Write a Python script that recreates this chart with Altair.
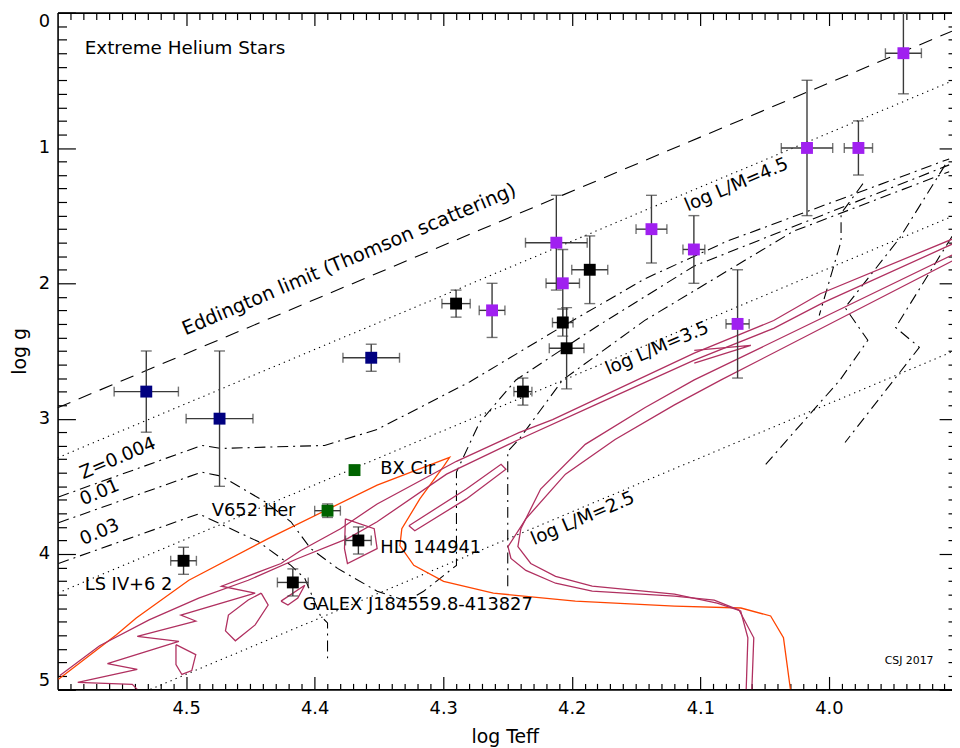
import altair as alt
import pandas as pd

FONT = "DejaVu Sans"
W, H = 902, 682.5

# ---------------- stars (log Teff, log g, errors) ----------------
star_class = ["navy"] * 3 + ["green"] * 2 + ["black"] * 8 + ["purple"] * 9
star_logT = [4.531, 4.474, 4.356, 4.369, 4.390, 4.502, 4.417, 4.366, 4.290, 4.186, 4.207,
             4.204, 4.238, 4.262, 4.212, 4.207, 4.138, 4.105, 4.071, 3.942, 4.017, 3.977]
star_logg = [2.80, 3.00, 2.55, 3.38, 3.68, 4.05, 4.21, 3.90, 2.15, 1.90, 2.29,
             2.48, 2.80, 2.20, 1.70, 2.00, 1.60, 1.75, 2.30, 0.30, 1.00, 1.00]
star_eT = [0.025, 0.026, 0.022, 0.0, 0.010, 0.010, 0.012, 0.010, 0.011, 0.014, 0.008,
           0.0135, 0.007, 0.010, 0.024, 0.013, 0.012, 0.0085, 0.009, 0.014, 0.020, 0.011]
star_eg = [0.30, 0.50, 0.10, 0.0, 0.05, 0.10, 0.10, 0.10, 0.10, 0.25, 0.10,
           0.30, 0.10, 0.20, 0.35, 0.25, 0.25, 0.25, 0.40, 0.30, 0.50, 0.20]

# ---------------- reference lines ----------------
eddington = [(4.6, 2.92), (3.9042, 0.137)]
lm45 = [(4.6, 3.289), (3.9042, 0.506)]
lm35 = [(4.6, 4.289), (3.9042, 1.506)]
lm25 = [(4.5278, 5.0), (3.9042, 2.506)]

z004 = [(4.5993, 3.579), (4.4879, 3.198), (4.4725, 3.220), (4.3923, 3.198), (4.3514, 3.080),
        (4.2795, 2.729), (4.2125, 2.348), (4.1432, 1.967), (4.0792, 1.689), (3.9064, 1.081)]
z001 = [(4.5993, 3.769), (4.4879, 3.395), (4.4725, 3.425), (4.4385, 3.615), (4.4185, 3.762),
        (4.4031, 3.960), (4.3822, 4.106), (4.3514, 4.275), (4.3283, 4.348), (4.3152, 4.275),
        (4.2897, 4.084), (4.2897, 3.395), (4.2718, 3.029), (4.2434, 2.714), (4.1817, 2.326),
        (4.1047, 1.872), (3.9064, 1.125)]
z003 = [(4.5993, 4.070), (4.4902, 3.703), (4.4439, 3.908), (4.4185, 4.084), (4.4077, 4.180),
        (4.3954, 4.458), (4.3900, 4.509), (4.3900, 4.780)]
track_d = [(4.2498, 4.238), (4.2498, 3.242), (4.2411, 3.154), (4.2071, 2.714), (4.1432, 2.274),
           (4.1047, 2.055), (4.0275, 1.615), (3.9064, 1.176)]
hook1 = [(3.9095, 1.125), (3.9450, 1.667), (3.9874, 2.179), (3.9697, 2.421), (3.9913, 2.714),
         (4.0491, 3.337)]
hook2 = [(3.9735, 1.264), (3.9905, 1.484), (3.9905, 1.689), (4.0075, 2.238)]
hook3 = [(3.9041, 1.652), (3.9481, 2.326), (3.9296, 2.473), (3.9874, 3.176)]

orange_track = [(4.5993, 4.925), (4.5542, 4.597), (4.5388, 4.473), (4.4979, 4.194), (4.4362, 3.886),
                (4.3514, 3.491), (4.2950, 3.286), (4.2997, 3.352), (4.3182, 3.593), (4.3322, 3.813),
                (4.3337, 3.938), (4.3229, 4.084), (4.2997, 4.202), (4.2610, 4.289), (4.1972, 4.348),
                (4.1201, 4.385), (4.0684, 4.399), (4.0453, 4.458), (4.0353, 4.619), (4.0299, 5.0)]

mag_outer = [(3.9041, 1.835), (4.0838, 2.714), (4.1201, 2.898), (4.1663, 3.154), (4.2049, 3.410),
             (4.2357, 3.740), (4.2496, 3.945), (4.2473, 4.033), (4.2357, 4.121), (4.2126, 4.216),
             (4.1841, 4.275), (4.1201, 4.311), (4.0892, 4.340), (4.0699, 4.414), (4.0584, 4.619),
             (4.0599, 5.0)]
mag_inner = [(3.9041, 1.791), (4.1047, 2.714), (4.1432, 2.919), (4.1895, 3.190), (4.2242, 3.520),
             (4.2396, 3.813), (4.2419, 3.945), (4.2319, 4.070), (4.2126, 4.165), (4.1841, 4.238),
             (4.1201, 4.297), (4.0869, 4.363), (4.0686, 4.421), (4.0630, 4.619), (4.0643, 5.0)]
mag_up1 = [(3.9041, 1.674), (4.0067, 2.077), (4.0429, 2.275), (4.1047, 2.516), (4.2149, 3.007),
           (4.2411, 3.103), (4.2897, 3.315), (4.3514, 3.630), (4.3799, 3.813), (4.4108, 3.974),
           (4.4262, 4.070), (4.4725, 4.238), (4.4463, 4.289), (4.5041, 4.451), (4.4925, 4.495),
           (4.5380, 4.609), (4.5056, 4.646), (4.5612, 4.809), (4.5380, 4.853), (4.5843, 4.949),
           (4.5419, 4.963), (4.5380, 5.0)]
mag_up2 = [(3.9041, 1.711), (4.0044, 2.143), (4.0429, 2.333), (4.1047, 2.568), (4.1818, 2.898),
           (4.2411, 3.154), (4.2974, 3.410), (4.3514, 3.762), (4.3745, 3.886), (4.4131, 4.033),
           (4.4517, 4.194), (4.4902, 4.326), (4.5288, 4.487), (4.5673, 4.678), (4.5982, 4.897)]
mag_spike = [(4.1047, 2.495), (4.0607, 2.458), (4.1047, 2.590)]
loop1 = [(4.5079, 4.670), (4.4925, 4.743), (4.4956, 4.861), (4.5033, 4.890), (4.5079, 4.817), (4.5079, 4.670)]
loop2 = [(4.4416, 4.289), (4.4362, 4.377), (4.4463, 4.524), (4.4617, 4.641), (4.4694, 4.568),
         (4.4671, 4.451), (4.4517, 4.340), (4.4416, 4.289)]
loop3 = [(4.3761, 3.740), (4.3537, 3.813), (4.3514, 3.960), (4.3745, 4.070), (4.3768, 3.960), (4.3761, 3.740)]
loop4 = [(4.3267, 3.791), (4.2820, 3.520), (4.2550, 3.337), (4.2512, 3.374), (4.2820, 3.593),
         (4.3221, 3.828), (4.3267, 3.791)]
loop5 = [(4.4262, 4.348), (4.4077, 4.231), (4.4131, 4.326), (4.4208, 4.377), (4.4262, 4.348)]

# ---------------- annotations ----------------
title_label = ["Extreme Helium Stars"]
title_T, title_g = [4.5789], [0.309]
star_labels = ["BX Cir", "V652 Her", "HD 144941", "GALEX J184559.8-413827", "LS IV+6 2"]
star_label_T = [4.3489, 4.4800, 4.3489, 4.4092, 4.5789]
star_label_g = [3.410, 3.716, 3.996, 4.412, 4.265]
line_labels = ["Eddington limit (Thomson scattering)", "Z=0.004", "0.01", "0.03",
               "log L/M=4.5", "log L/M=3.5", "log L/M=2.5"]
line_label_T = [4.5005, 4.5802, 4.5802, 4.5802, 4.1098, 4.1715, 4.2293]
line_label_g = [2.385, 3.447, 3.642, 3.935, 1.469, 2.678, 3.935]
credit = ["CSJ 2017"]
credit_T, credit_g = [3.9566], [4.810]

x_major = [4.5, 4.4, 4.3, 4.2, 4.1, 4.0]
x_minor = [round(3.90 + 0.01 * k, 2) for k in range(1, 70) if k % 10 != 0]
y_major = [0, 1, 2, 3, 4, 5]
y_minor = [round(0.1 * k, 1) for k in range(1, 50) if k % 10 != 0]

# ---------------- scales ----------------
xscale = alt.Scale(domain=[3.9042, 4.6], reverse=True, nice=False, zero=False)
yscale = alt.Scale(domain=[0, 5], reverse=True, nice=False, zero=False)


def X(field="T", axis=None):
    return alt.X(f"{field}:Q", scale=xscale, axis=axis)


def Y(field="g", axis=None):
    return alt.Y(f"{field}:Q", scale=yscale, axis=axis)


def path_layer(pts, color, dash=None, width=1.1):
    df = pd.DataFrame(pts, columns=["T", "g"])
    df["i"] = range(len(df))
    props = dict(color=color, strokeWidth=width, clip=True, strokeCap="butt")
    if dash is not None:
        props["strokeDash"] = dash
    return alt.Chart(df).mark_line(**props).encode(x=X(), y=Y(), order="i:Q")


# ---------------- axes (inward ticks via negative offset) ----------------
axis_df = pd.DataFrame({"T": [4.5], "g": [2.5]})


def axis_layer(xaxis, yaxis):
    return alt.Chart(axis_df).mark_point(opacity=0).encode(x=X(axis=xaxis), y=Y(axis=yaxis))


def tick_axis(orient, values, size, **kw):
    base = dict(orient=orient, values=values, tickSize=size, offset=-size, grid=False,
                domain=False, labels=False, title=None, tickColor="black", tickWidth=1.2)
    base.update(kw)
    return alt.Axis(**base)


bottom_major = tick_axis("bottom", x_major, 13, labels=True, format=".1f", labelFont=FONT,
                         labelFontSize=18, labelColor="black", labelPadding=10, labelFlush=False,
                         title="log Teff", titleFont=FONT, titleFontSize=19,
                         titleFontWeight="normal", titleColor="black", titlePadding=11)
left_major = tick_axis("left", y_major, 18, labels=True, format="d", labelFont=FONT,
                       labelFontSize=18, labelColor="black", labelPadding=8, labelFlush=True,
                       title="log g", titleFont=FONT, titleFontSize=19,
                       titleFontWeight="normal", titleColor="black", titlePadding=9)
axes = [
    axis_layer(bottom_major, left_major),
    axis_layer(tick_axis("bottom", x_minor, 6), tick_axis("left", y_minor, 9)),
    axis_layer(tick_axis("top", x_major, 13), tick_axis("right", y_major, 13)),
    axis_layer(tick_axis("top", x_minor, 7), tick_axis("right", y_minor, 4)),
    axis_layer(alt.Axis(orient="bottom", ticks=False, labels=False, grid=False, title=None,
                        domainColor="black", domainWidth=1.6),
               alt.Axis(orient="left", ticks=False, labels=False, grid=False, title=None,
                        domainColor="black", domainWidth=1.6)),
    axis_layer(alt.Axis(orient="top", ticks=False, labels=False, grid=False, title=None,
                        domainColor="black", domainWidth=1.6), None),
]

# ---------------- curves ----------------
DASHDOT = [11, 5, 2, 5]
DOT = [1.3, 4.2]
MAROON = "#b03060"
curves = [
    path_layer(eddington, "black", [14, 9]),
    path_layer(lm45, "black", DOT),
    path_layer(lm35, "black", DOT),
    path_layer(lm25, "black", DOT),
    path_layer(z004, "black", DASHDOT),
    path_layer(z001, "black", DASHDOT),
    path_layer(z003, "black", DASHDOT),
    path_layer(track_d, "black", DASHDOT),
    path_layer(hook1, "black", DASHDOT),
    path_layer(hook2, "black", DASHDOT),
    path_layer(hook3, "black", DASHDOT),
    path_layer(orange_track, "#ff4500", None, 1.3),
]
for trk in [mag_outer, mag_inner, mag_up1, mag_up2, mag_spike, loop1, loop2, loop3, loop4, loop5]:
    curves.append(path_layer(trk, MAROON, None, 1.3))

# ---------------- stars ----------------
stars = pd.DataFrame({"cls": star_class, "T": star_logT, "g": star_logg,
                      "eT": star_eT, "eg": star_eg})
stars["Tlo"] = stars["T"] - stars["eT"]
stars["Thi"] = stars["T"] + stars["eT"]
stars["glo"] = stars["g"] - stars["eg"]
stars["ghi"] = stars["g"] + stars["eg"]
err = stars[stars["eT"] > 0]
EC = "#3a3a3a"
errbars = [
    alt.Chart(err).mark_rule(color=EC, strokeWidth=1.4).encode(x=X("Tlo"), x2="Thi:Q", y=Y()),
    alt.Chart(err).mark_rule(color=EC, strokeWidth=1.4).encode(x=X(), y=Y("glo"), y2="ghi:Q"),
    alt.Chart(err).mark_tick(color=EC, orient="vertical", size=10, thickness=1.4).encode(x=X("Tlo"), y=Y()),
    alt.Chart(err).mark_tick(color=EC, orient="vertical", size=10, thickness=1.4).encode(x=X("Thi"), y=Y()),
    alt.Chart(err).mark_tick(color=EC, orient="horizontal", size=11, thickness=1.4).encode(x=X(), y=Y("glo")),
    alt.Chart(err).mark_tick(color=EC, orient="horizontal", size=11, thickness=1.4).encode(x=X(), y=Y("ghi")),
]
points = alt.Chart(stars).mark_square(size=144, filled=True, opacity=1).encode(
    x=X(), y=Y(),
    color=alt.Color("cls:N", legend=None,
                    scale=alt.Scale(domain=["navy", "green", "black", "purple"],
                                    range=["#000080", "#006400", "#000000", "#a020f0"])))

# ---------------- texts ----------------
def text_layer(labels, Ts, gs, size, angle=0):
    df = pd.DataFrame({"label": labels, "T": Ts, "g": gs})
    return alt.Chart(df).mark_text(align="left", baseline="alphabetic", font=FONT,
                                   fontSize=size, angle=angle, color="black").encode(
        x=X(), y=Y(), text="label:N")


texts = [
    text_layer(title_label, title_T, title_g, 18.5),
    text_layer(star_labels, star_label_T, star_label_g, 18),
    text_layer(line_labels[:1], line_label_T[:1], line_label_g[:1], 19.5, 337),
    text_layer(line_labels[1:], line_label_T[1:], line_label_g[1:], 18.5, 337),
    text_layer(credit, credit_T, credit_g, 11),
]

chart = alt.layer(*axes, *curves, *errbars, points, *texts).resolve_axis(
    x="independent", y="independent"
).properties(
    width=W, height=H,
    padding={"left": 50, "top": 1.5, "right": 0, "bottom": 56},
    autosize=alt.AutoSizeParams(type="none"),
).configure_view(stroke=None)

chart.save("out.html", embed_options={"renderer": "svg", "actions": False})
